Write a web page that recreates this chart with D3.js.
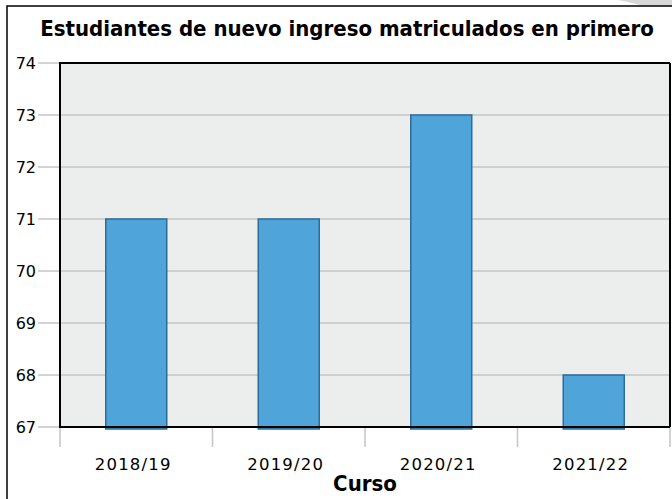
<!DOCTYPE html>
<html><head><meta charset="utf-8">
<script src="https://cdn.jsdelivr.net/npm/d3@7"></script>
<style>html,body{margin:0;padding:0;background:#fff;}svg{display:block;}</style>
</head><body>
<script>
const categories = ["2018/19","2019/20","2020/21","2021/22"];
const values = [71, 71, 73, 68];
const yTicks = [67,68,69,70,71,72,73,74];
const title = "Estudiantes de nuevo ingreso matriculados en primero";
const xTitle = "Curso";

const W = 672, H = 499;
const svg = d3.select("body").append("svg").attr("width", W).attr("height", H);

// page decoration
svg.append("path").attr("d","M618,0 Q640,4 650,9 L672,12 L672,0 Z").attr("fill","#d8d8d8");
svg.append("rect").attr("x",7).attr("y",6).attr("width",W+20).attr("height",H+20)
  .attr("fill","#fff").attr("stroke","#000").attr("stroke-width",1.5);

const m = {l:60, r:670, t:63, b:427};
const x = d3.scaleBand().domain(categories).range([m.l, m.r]).paddingInner(0).paddingOuter(0);
const y = d3.scaleLinear().domain([67,74]).range([m.b, m.t]);

svg.append("rect").attr("x",m.l).attr("y",m.t).attr("width",m.r-m.l).attr("height",m.b-m.t).attr("fill","#eceeee");

// grid
const g = svg.append("g");
g.selectAll("line.grid").data(yTicks).join("line")
  .attr("x1",38).attr("x2",m.r).attr("y1",d=>y(d)).attr("y2",d=>y(d))
  .attr("stroke","#c4c4c4").attr("stroke-width",1.5);

// y axis labels
const yAxis = d3.axisLeft(y).tickValues(yTicks).tickSize(0).tickPadding(0).tickFormat(d3.format("d"));
const ya = svg.append("g").attr("transform",`translate(36,0)`).call(yAxis);
ya.select(".domain").remove();
ya.selectAll("text").attr("font-family","DejaVu Sans, sans-serif").attr("font-size",16).attr("fill","#000").attr("dy","0.35em");

// x ticks
const xt = [...categories.map(c=>x(c)), m.r];
svg.selectAll("line.xt").data(xt).join("line")
  .attr("x1",d=>d).attr("x2",d=>d).attr("y1",m.b).attr("y2",m.b+20)
  .attr("stroke","#c4c4c4").attr("stroke-width",1.5);

// bars
const bw = x.bandwidth()*0.4;
svg.selectAll("rect.bar").data(values).join("rect").attr("class","bar")
  .attr("x",(d,i)=>x(categories[i])+x.bandwidth()/2-bw/2)
  .attr("y",d=>y(d))
  .attr("width",bw)
  .attr("height",d=>y(67)-y(d)+2)
  .attr("fill","#4fa5da").attr("stroke","#2e6c96").attr("stroke-width",1.5);

// plot frame
svg.append("path").attr("d",`M${m.r},${m.t}H${m.l}V${m.b}H${m.r}`).attr("fill","none").attr("stroke","#000").attr("stroke-width",2);
svg.append("line").attr("x1",m.r).attr("x2",m.r).attr("y1",m.t).attr("y2",m.b).attr("stroke","#000").attr("stroke-width",2);

// x labels
const xAxis = d3.axisBottom(x).tickSize(0).tickPadding(0);
const xa = svg.append("g").attr("transform",`translate(-3,${m.b+43})`).call(xAxis);
xa.select(".domain").remove();
xa.selectAll("text").attr("font-family","DejaVu Sans, sans-serif").attr("font-size",16.5).attr("fill","#000").attr("dy",0).attr("letter-spacing","1.2px");

svg.append("text").attr("x",365).attr("y",491).attr("text-anchor","middle")
  .attr("font-family","DejaVu Sans Condensed, DejaVu Sans, sans-serif").attr("font-stretch","condensed").attr("font-weight","bold").attr("font-size",22).text(xTitle);

svg.append("text").attr("x",347).attr("y",36).attr("text-anchor","middle")
  .attr("font-family","DejaVu Sans Condensed, DejaVu Sans, sans-serif").attr("font-stretch","condensed").attr("font-weight","bold").attr("font-size",22).text(title);
</script>
</body></html>
